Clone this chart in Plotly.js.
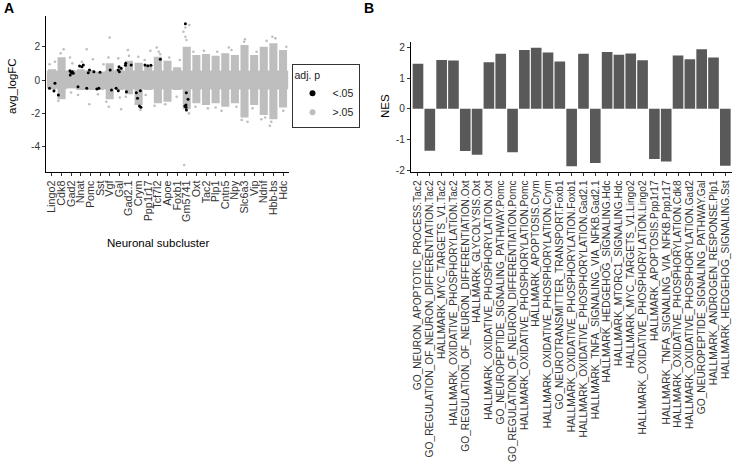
<!DOCTYPE html>
<html>
<head>
<meta charset="utf-8">
<script src="https://cdn.plot.ly/plotly-3.0.1.min.js"></script>
<style>html,body{margin:0;padding:0;background:#fff;}#chart{width:738px;height:469px;}</style>
</head>
<body>
<div id="chart"></div>
<script>
// ---------- Panel A data ----------
var categoriesA = ["Lingo2","Cdk8","Gad2","Nnat","Pomc","Sst","Vgf","Gal","Gad2.1","Crym","Ppp1r17","Tcf7l2","Apoe","Foxb1","Gm5741","Oxt","Tac2","Plp1","Cntn5","Npy","Slc6a3","Vip","Ndnf","Hbb-bs","Hdc"];
// dense range of the non-significant genes in each subcluster
var bandHigh = [0.64,1.36,0.6,0.64,0.6,0.5,1.0,0.64,1.15,1.04,0.9,1.4,1.16,0.76,2.0,1.5,1.56,1.45,1.6,1.5,2.1,1.5,2.0,2.2,1.8];
var bandLow  = [-0.56,-1.15,-0.5,-0.6,-0.6,-0.6,-1.15,-0.6,-0.85,-1.5,-0.6,-1.4,-1.3,-0.6,-1.75,-1.4,-1.5,-1.4,-1.6,-1.4,-2.25,-1.5,-2.1,-2.35,-1.65];
// central part where neighbouring subclusters touch
var coreHigh = [0.55,0.55,0.55,0.55,0.55,0.5,0.55,0.55,0.55,0.55,0.55,0.55,0.55,0.55,0.55,0.55,0.55,0.55,0.55,0.55,0.55,0.55,0.55,0.55,0.55];
var coreLow  = [-0.5,-0.55,-0.5,-0.55,-0.55,-0.55,-0.55,-0.55,-0.55,-0.55,-0.55,-0.55,-0.55,-0.55,-0.55,-0.55,-0.55,-0.55,-0.55,-0.55,-0.55,-0.55,-0.55,-0.55,-0.55];
// scattered non-significant genes outside the dense range
var grayCat = ["Lingo2","Lingo2","Lingo2","Cdk8","Cdk8","Cdk8","Gad2","Gad2","Gad2","Nnat","Nnat","Pomc","Pomc","Pomc","Sst","Sst","Vgf","Vgf","Vgf","Vgf","Gal","Gal","Gal","Gad2.1","Gad2.1","Gad2.1","Crym","Crym","Ppp1r17","Ppp1r17","Ppp1r17","Tcf7l2","Tcf7l2","Tcf7l2","Tcf7l2","Apoe","Apoe","Foxb1","Foxb1","Gm5741","Gm5741","Gm5741","Gm5741","Gm5741","Gm5741","Gm5741","Oxt","Oxt","Tac2","Tac2","Plp1","Plp1","Cntn5","Cntn5","Npy","Npy","Slc6a3","Slc6a3","Slc6a3","Slc6a3","Vip","Vip","Ndnf","Ndnf","Ndnf","Hbb-bs","Hbb-bs","Hbb-bs","Hbb-bs","Hdc","Hdc"];
var grayVal = [1.1,0.95,-0.7,1.85,1.6,-1.25,1.35,1.0,-0.75,1.1,-0.9,1.85,1.25,-1.45,0.95,-0.85,2.55,1.35,-1.3,-1.6,1.3,-1.05,-1.75,1.8,1.45,-1.0,1.4,-1.8,1.75,1.2,-0.9,1.95,1.7,1.55,-1.55,1.35,-1.45,1.2,-1.0,3.3,3.15,2.9,2.6,2.4,-2.0,-5.1,1.7,-1.6,1.75,-1.7,1.7,-1.65,1.95,-1.85,1.8,-1.6,2.45,2.3,-2.4,-2.5,1.7,-1.7,2.35,-2.25,-2.35,2.6,2.5,-2.5,-2.75,2.0,-1.85];
// significant genes (adj. p < .05)
var sigCat = ["Lingo2","Lingo2","Lingo2","Cdk8","Gad2","Gad2","Gad2","Gad2","Gad2","Nnat","Nnat","Nnat","Nnat","Pomc","Pomc","Pomc","Pomc","Sst","Sst","Sst","Vgf","Vgf","Gal","Gal","Gal","Gal","Gal","Gal","Gad2.1","Gad2.1","Gad2.1","Gad2.1","Crym","Crym","Crym","Crym","Crym","Ppp1r17","Ppp1r17","Ppp1r17","Tcf7l2","Gm5741","Gm5741","Gm5741","Gm5741","Gm5741","Gm5741","Gm5741"];
var sigVal = [-0.2,-0.5,-0.64,-0.9,0.56,0.5,0.45,0.4,0.3,0.9,0.84,0.8,-0.4,0.6,0.5,0.44,-0.5,0.46,-0.5,-0.54,0.6,-0.6,0.8,0.7,0.6,0.5,-0.5,-0.64,1.0,0.9,0.88,-0.7,-0.64,-0.76,-1.1,-1.56,-1.64,0.9,0.88,0.86,1.24,3.38,-0.76,-1.16,-1.5,-1.56,-1.64,-1.8];
var ticksA = [-4,-2,0,2];
var legendLabels = ["<.05", ">.05"];

// ---------- Panel B data ----------
var categoriesB = [
  "GO_NEURON_APOPTOTIC_PROCESS.Tac2",
  "GO_REGULATION_OF_NEURON_DIFFERENTIATION.Tac2",
  "HALLMARK_MYC_TARGETS_V1.Tac2",
  "HALLMARK_OXIDATIVE_PHOSPHORYLATION.Tac2",
  "GO_REGULATION_OF_NEURON_DIFFERENTIATION.Oxt",
  "HALLMARK_GLYCOLYSIS.Oxt",
  "HALLMARK_OXIDATIVE_PHOSPHORYLATION.Oxt",
  "GO_NEUROPEPTIDE_SIGNALING_PATHWAY.Pomc",
  "GO_REGULATION_OF_NEURON_DIFFERENTIATION.Pomc",
  "HALLMARK_OXIDATIVE_PHOSPHORYLATION.Pomc",
  "HALLMARK_APOPTOSIS.Crym",
  "HALLMARK_OXIDATIVE_PHOSPHORYLATION.Crym",
  "GO_NEUROTRANSMITTER_TRANSPORT.Foxb1",
  "HALLMARK_OXIDATIVE_PHOSPHORYLATION.Foxb1",
  "HALLMARK_OXIDATIVE_PHOSPHORYLATION.Gad2.1",
  "HALLMARK_TNFA_SIGNALING_VIA_NFKB.Gad2.1",
  "HALLMARK_HEDGEHOG_SIGNALING.Hdc",
  "HALLMARK_MTORC1_SIGNALING.Hdc",
  "HALLMARK_MYC_TARGETS_V1.Lingo2",
  "HALLMARK_OXIDATIVE_PHOSPHORYLATION.Lingo2",
  "HALLMARK_APOPTOSIS.Ppp1r17",
  "HALLMARK_TNFA_SIGNALING_VIA_NFKB.Ppp1r17",
  "HALLMARK_OXIDATIVE_PHOSPHORYLATION.Cdk8",
  "HALLMARK_OXIDATIVE_PHOSPHORYLATION.Gad2",
  "GO_NEUROPEPTIDE_SIGNALING_PATHWAY.Gal",
  "HALLMARK_ANDROGEN_RESPONSE.Plp1",
  "HALLMARK_HEDGEHOG_SIGNALING.Sst"
];
var nesValues = [1.47,-1.37,1.60,1.58,-1.38,-1.50,1.52,1.80,-1.42,1.92,2.00,1.84,1.55,-1.88,1.80,-1.77,1.86,1.77,1.81,1.59,-1.64,-1.72,1.74,1.62,1.95,1.68,-1.86];
var ticksB = [-2,-1,0,1,2];

// ---------- figure ----------
var W = 738, H = 469;
function px(x){ return x / W; }
function py(y){ return 1 - y / H; }
var FONT = "Liberation Sans, Arial, Helvetica, sans-serif";
var GREY = "#bebebe";

function diff(hi, lo){ return hi.map(function(h, i){ return h - lo[i]; }); }

var traces = [
  {
    type: "bar", x: categoriesA, base: coreLow, y: diff(coreHigh, coreLow),
    width: 1.08, marker: {color: GREY, line: {width: 0}},
    xaxis: "x", yaxis: "y", showlegend: false, hoverinfo: "skip"
  },
  {
    type: "bar", x: categoriesA, base: bandLow, y: diff(bandHigh, bandLow),
    width: 0.84, marker: {color: GREY, line: {width: 0}},
    xaxis: "x", yaxis: "y", showlegend: false, hoverinfo: "skip"
  },
  {
    type: "box", x: grayCat, y: grayVal, boxpoints: "all", jitter: 1, pointpos: 0, width: 0.8,
    fillcolor: "rgba(0,0,0,0)", line: {width: 0, color: "rgba(0,0,0,0)"},
    marker: {color: GREY, size: 2.6, line: {width: 0}},
    xaxis: "x", yaxis: "y", showlegend: false, hoveron: "points"
  },
  {
    type: "box", x: sigCat, y: sigVal, boxpoints: "all", jitter: 1, pointpos: 0, width: 0.8,
    fillcolor: "rgba(0,0,0,0)", line: {width: 0, color: "rgba(0,0,0,0)"},
    marker: {color: "#000000", size: 3, line: {width: 0}},
    xaxis: "x", yaxis: "y", showlegend: false, hoveron: "points"
  },
  {
    type: "scatter", mode: "markers", x: [null], y: [null], name: legendLabels[0],
    marker: {color: "#000000", size: 6}, xaxis: "x", yaxis: "y"
  },
  {
    type: "scatter", mode: "markers", x: [null], y: [null], name: legendLabels[1],
    marker: {color: GREY, size: 6}, xaxis: "x", yaxis: "y"
  },
  {
    type: "bar", x: categoriesB, y: nesValues, width: 0.9,
    marker: {color: "#595959", line: {width: 0}},
    xaxis: "x2", yaxis: "y2", showlegend: false
  }
];

var axisCommon = {
  showgrid: false, zeroline: false, showline: true, linecolor: "#000", linewidth: 1,
  ticks: "outside", ticklen: 3, tickwidth: 1, tickcolor: "#333",
  tickfont: {family: FONT, size: 10.2, color: "#333"}, automargin: false
};

var layout = {
  width: W, height: H,
  margin: {l: 0, r: 0, t: 0, b: 0, pad: 0},
  paper_bgcolor: "#fff", plot_bgcolor: "#fff",
  font: {family: FONT, color: "#333"},
  barmode: "overlay", boxmode: "overlay",
  xaxis: Object.assign({}, axisCommon, {
    domain: [px(46.2), px(288.8)], anchor: "y", type: "category",
    categoryorder: "array", categoryarray: categoriesA,
    range: [-0.6, categoriesA.length - 0.4], tickangle: -90, dtick: 1, tick0: 0,
    tickfont: {family: FONT, size: 10.8, color: "#333"}
  }),
  yaxis: Object.assign({}, axisCommon, {
    domain: [py(172.2), py(16.2)], anchor: "x", range: [-5.53, 3.83],
    tickmode: "array", tickvals: ticksA, ticktext: ticksA.map(String)
  }),
  xaxis2: Object.assign({}, axisCommon, {
    domain: [px(410.9), px(732.4)], anchor: "y2", type: "category",
    categoryorder: "array", categoryarray: categoriesB,
    range: [-0.6, categoriesB.length - 0.4], tickangle: -90, dtick: 1, tick0: 0
  }),
  yaxis2: Object.assign({}, axisCommon, {
    domain: [py(172.3), py(41.7)], anchor: "x2", range: [-2.074, 2.194],
    tickmode: "array", tickvals: ticksB, ticktext: ticksB.map(String)
  }),
  showlegend: true,
  legend: {
    x: px(291.5), y: py(64), xanchor: "left", yanchor: "top",
    bgcolor: "#fff", bordercolor: "#333", borderwidth: 1,
    font: {family: FONT, size: 10.5, color: "#222"},
    title: {text: "adj. p", font: {family: FONT, size: 10.5, color: "#222"}},
    itemwidth: 30, tracegroupgap: 0
  },
  annotations: [
    {text: "<b>A</b>", x: px(2), y: py(8), xref: "paper", yref: "paper", xanchor: "left", yanchor: "middle", showarrow: false, font: {family: FONT, size: 14, color: "#000"}},
    {text: "<b>B</b>", x: px(362), y: py(8), xref: "paper", yref: "paper", xanchor: "left", yanchor: "middle", showarrow: false, font: {family: FONT, size: 14, color: "#000"}},
    {text: "avg_logFC", x: px(12), y: py(86), xref: "paper", yref: "paper", xanchor: "center", yanchor: "middle", textangle: -90, showarrow: false, font: {family: FONT, size: 11.5, color: "#000"}},
    {text: "NES", x: px(385), y: py(106), xref: "paper", yref: "paper", xanchor: "center", yanchor: "middle", textangle: -90, showarrow: false, font: {family: FONT, size: 11.5, color: "#000"}},
    {text: "Neuronal subcluster", x: px(158), y: py(243), xref: "paper", yref: "paper", xanchor: "center", yanchor: "middle", showarrow: false, font: {family: FONT, size: 11.5, color: "#000"}}
  ]
};

Plotly.newPlot("chart", traces, layout, {staticPlot: true, displayModeBar: false});
</script>
</body>
</html>
